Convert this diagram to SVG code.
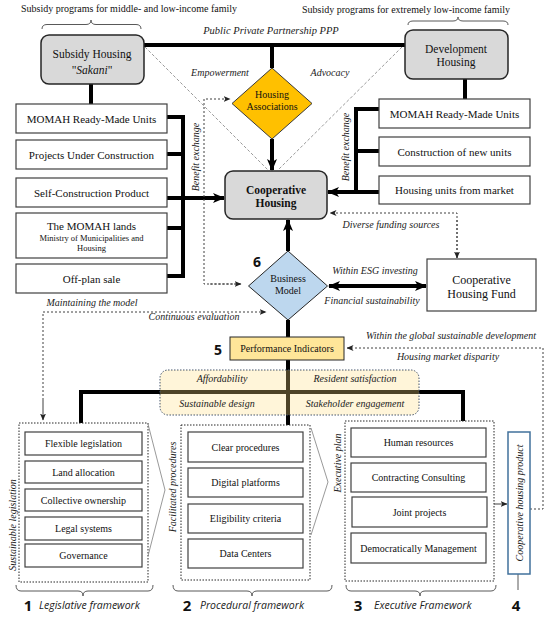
<svg xmlns="http://www.w3.org/2000/svg" width="550" height="618" viewBox="0 0 550 618">
<defs>
<style>
.t{font-family:"Liberation Serif","Times New Roman",serif;fill:#111;text-anchor:middle;}
.l{text-anchor:start;}
.i{font-style:italic;fill:#222;}
.s{font-family:"Open Sans","DejaVu Sans",sans-serif;}
.b{font-weight:bold;}
.box{fill:#fff;stroke:#404040;stroke-width:1.2;}
.gbox{fill:#d9d9d9;stroke:#262626;stroke-width:1.5;}
.thick{stroke:#000;stroke-width:4;fill:none;}
.dot{stroke:#404040;stroke-width:1;stroke-dasharray:2,2;fill:none;}
.dash{stroke:#7f7f7f;stroke-width:0.8;stroke-dasharray:3,2;fill:none;}
.frame{fill:none;stroke:#262626;stroke-width:1;stroke-dasharray:1.5,1.5;}
.brace{fill:none;stroke:#595959;stroke-width:1;}
.chev{fill:none;stroke:#7f7f7f;stroke-width:0.8;}
</style>
<marker id="ah" markerUnits="userSpaceOnUse" markerWidth="12" markerHeight="10" refX="11" refY="5" orient="auto-start-reverse" viewBox="0 0 12 10">
<path d="M0,0 L12,5 L0,10 L3,5 z" fill="#000"/>
</marker>
<marker id="sa" markerUnits="userSpaceOnUse" markerWidth="7" markerHeight="6" refX="6.5" refY="3" orient="auto" viewBox="0 0 7 6">
<path d="M0,0 L7,3 L0,6 L1.8,3 z" fill="#222"/>
</marker>
</defs>
<rect width="550" height="618" fill="#fff"/>

<!-- top labels and braces -->
<text class="t" x="129" y="12" font-size="10">Subsidy programs for middle- and low-income family</text>
<path class="brace" d="M42,29 Q42,24.5 47,24.5 L86,24.5 Q91,24.5 91,20 Q91,24.5 96,24.5 L136,24.5 Q141,24.5 141,29"/>
<text class="t" x="406" y="13" font-size="10">Subsidy programs for extremely low-income family</text>
<path class="brace" d="M408,25 Q408,21 413,21 L453,21 Q458,21 458,17 Q458,21 463,21 L503,21 Q508,21 508,25"/>
<text class="t i" x="271" y="34" font-size="10.5">Public Private Partnership PPP</text>

<g id="connectors">
<!-- dashed diagonals -->
<line class="dash" x1="145" y1="47" x2="268" y2="170"/>
<line class="dash" x1="402" y1="47" x2="278" y2="170"/>
<!-- PPP line -->
<line class="thick" x1="144" y1="45" x2="405" y2="45"/>
<line class="thick" x1="272" y1="45" x2="272" y2="68"/>
<line class="thick" x1="272" y1="139" x2="272" y2="170" marker-end="url(#ah)"/>
<!-- left side -->
<line class="thick" x1="91" y1="84" x2="91" y2="104"/>
<path class="thick" d="M167,117 H183 V276 H167"/>
<line class="thick" x1="167" y1="154" x2="183" y2="154"/>
<line class="thick" x1="167" y1="228" x2="183" y2="228"/>
<line class="thick" x1="167" y1="198" x2="224" y2="198" marker-end="url(#ah)"/>
<!-- right side -->
<line class="thick" x1="465" y1="79" x2="465" y2="99"/>
<path class="thick" d="M379,109 H356 V192"/>
<line class="thick" x1="379" y1="151" x2="356" y2="151"/>
<line class="thick" x1="379" y1="192" x2="328" y2="192" marker-end="url(#ah)"/>
<!-- benefit dotted to diamonds -->
<path class="dot" d="M241,284 H204 V99 H230" marker-end="url(#sa)"/>
<line class="dot" x1="210" y1="284" x2="241" y2="284" marker-end="url(#sa)"/>
<!-- funding -->
<path class="dot" d="M457,258 V213 H330" marker-end="url(#sa)"/>
<line class="dot" x1="457" y1="220" x2="457" y2="258" marker-end="url(#sa)"/>
<!-- business model -->
<line class="thick" x1="288" y1="251" x2="288" y2="220" marker-end="url(#ah)"/>
<line class="thick" x1="329" y1="286" x2="426" y2="286" marker-start="url(#ah)" marker-end="url(#ah)"/>
<line class="thick" x1="288" y1="320" x2="288" y2="337"/>
<!-- maintaining -->
<path class="dot" d="M43,420 V312 H266" marker-end="url(#sa)"/>
<line class="dot" x1="43" y1="400" x2="43" y2="420" marker-end="url(#sa)"/>
<!-- global -->
<path class="dot" d="M530,509 H543 V348 H347" marker-end="url(#sa)"/>
<!-- framework lines -->
<line class="thick" x1="288" y1="360" x2="288" y2="425"/>
<path class="thick" d="M81,423 V392 H463 V421"/>
<!-- exec to product -->
<line x1="494" y1="504" x2="507" y2="504" stroke="#404040" stroke-width="1" marker-end="url(#sa)"/>
<line x1="518" y1="574" x2="518" y2="590" stroke="#595959" stroke-width="1"/>
</g>

<text class="t i" x="220" y="76" font-size="10">Empowerment</text>
<text class="t i" x="330" y="76" font-size="10">Advocacy</text>
<text class="t i" transform="translate(198.5,157) rotate(-90)" font-size="10">Benefit exchange</text>
<text class="t i" transform="translate(348.5,147) rotate(-90)" font-size="10">Benefit exchange</text>
<text class="t i" x="391" y="228" font-size="10">Diverse funding sources</text>
<text class="t i" x="375" y="274" font-size="10">Within ESG investing</text>
<text class="t i" x="372" y="304" font-size="10">Financial sustainability</text>
<text class="t i" x="92" y="306" font-size="10">Maintaining the model</text>
<text class="t i" x="194" y="320" font-size="10">Continuous evaluation</text>
<text class="t i" x="451" y="339" font-size="10">Within the global sustainable development</text>
<text class="t i" x="448" y="360" font-size="10">Housing market disparity</text>

<g id="subsidy-housing">
<rect class="gbox" x="41" y="35" width="103" height="49" rx="8"/>
<text class="t" x="92" y="58" font-size="11.5">Subsidy Housing</text>
<text class="t" x="92" y="74" font-size="11.5">"<tspan font-style="italic">Sakani</tspan>"</text>
</g>
<g id="development-housing">
<rect class="gbox" x="405" y="30" width="103" height="49" rx="8"/>
<text class="t" x="456" y="53" font-size="11.5">Development</text>
<text class="t" x="456" y="66" font-size="11.5">Housing</text>
</g>
<g id="housing-associations">
<polygon points="272,68 312,103.5 272,139 232,103.5" fill="#ffc000" stroke="#3a3a3a" stroke-width="1"/>
<text class="t" x="272" y="97.5" font-size="10" fill="#3a2a00">Housing</text>
<text class="t" x="272" y="109.5" font-size="10" fill="#3a2a00">Associations</text>
</g>
<g id="cooperative-housing">
<rect class="gbox" x="225" y="171" width="102" height="48" rx="8"/>
<text class="t b" x="276" y="194" font-size="11.5">Cooperative</text>
<text class="t b" x="276" y="207" font-size="11.5">Housing</text>
</g>
<g id="left-options">
<rect class="box" x="16" y="104" width="151" height="29"/>
<text class="t" x="91.5" y="122.5" font-size="11">MOMAH Ready-Made Units</text>
<rect class="box" x="16" y="140" width="151" height="29"/>
<text class="t" x="91.5" y="158.5" font-size="11">Projects Under Construction</text>
<rect class="box" x="16" y="178" width="151" height="29"/>
<text class="t" x="91.5" y="196.5" font-size="11">Self-Construction Product</text>
<rect class="box" x="16" y="213" width="151" height="45"/>
<text class="t" x="91.5" y="230" font-size="11">The MOMAH lands</text>
<text class="t" x="91.5" y="241" font-size="8.5">Ministry of Municipalities and</text>
<text class="t" x="91.5" y="251" font-size="8.5">Housing</text>
<rect class="box" x="16" y="264" width="151" height="29"/>
<text class="t" x="91.5" y="282.5" font-size="11">Off-plan sale</text>
</g>
<g id="right-options">
<rect class="box" x="379" y="99" width="151" height="29"/>
<text class="t" x="454.5" y="117.5" font-size="11">MOMAH Ready-Made Units</text>
<rect class="box" x="379" y="137" width="151" height="29"/>
<text class="t" x="454.5" y="155.5" font-size="11">Construction of new units</text>
<rect class="box" x="379" y="176" width="151" height="28"/>
<text class="t" x="454.5" y="194" font-size="11">Housing units from market</text>
</g>
<g id="business-model">
<polygon points="288,251 327.5,286 288,320 248.5,286" fill="#bdd7ee" stroke="#262626" stroke-width="1"/>
<text class="t" x="288" y="281.5" font-size="10" fill="#1f3050">Business</text>
<text class="t" x="288" y="293.5" font-size="10" fill="#1f3050">Model</text>
<text class="t s b" x="257" y="267" font-size="14" fill="#000">6</text>
</g>
<g id="cooperative-housing-fund">
<rect class="box" x="427" y="259" width="109" height="52" stroke="#262626"/>
<text class="t" x="481.5" y="284" font-size="12">Cooperative</text>
<text class="t" x="481.5" y="298" font-size="12">Housing Fund</text>
</g>
<g id="performance-indicators">
<rect x="230" y="337" width="114" height="23" fill="#ffe699" stroke="#262626" stroke-width="1"/>
<text class="t" x="287" y="352" font-size="10">Performance Indicators</text>
<text class="t s b" x="218" y="355" font-size="14" fill="#000">5</text>
</g>
<g id="criteria">
<rect x="160" y="370" width="259" height="45" rx="8" fill="#ffdf80" fill-opacity="0.3" stroke="#44546a" stroke-width="1" stroke-dasharray="1.5,1.5"/>
<text class="t i" x="222" y="381.5" font-size="10" fill="#3d3522">Affordability</text>
<text class="t i" x="355" y="381.5" font-size="10" fill="#3d3522">Resident satisfaction</text>
<text class="t i" x="217" y="406.5" font-size="10" fill="#3d3522">Sustainable design</text>
<text class="t i" x="355" y="406.5" font-size="10" fill="#3d3522">Stakeholder engagement</text>
</g>
<g id="legislative-framework">
<rect class="frame" x="19" y="423" width="129" height="159"/>
<rect class="box" x="25" y="432" width="117" height="23"/>
<text class="t" x="83.5" y="447" font-size="10">Flexible legislation</text>
<rect class="box" x="25" y="461" width="117" height="22"/>
<text class="t" x="83.5" y="475.5" font-size="10">Land allocation</text>
<rect class="box" x="25" y="489" width="117" height="22"/>
<text class="t" x="83.5" y="503.5" font-size="10">Collective ownership</text>
<rect class="box" x="25" y="517" width="117" height="23"/>
<text class="t" x="83.5" y="532" font-size="10">Legal systems</text>
<rect class="box" x="25" y="544" width="117" height="23"/>
<text class="t" x="83.5" y="559" font-size="10">Governance</text>
<text class="t i" transform="translate(15.5,525) rotate(-90)" font-size="10">Sustainable legislation</text>
<path class="chev" d="M148,424 L165,490 L148,556"/>
<path class="brace" d="M16,585 Q16,591 21,591 L78,591 Q83,591 83,596 Q83,591 88,591 L148,591 Q153,591 153,585"/>
<text class="t s b" x="28" y="611" font-size="15" fill="#000">1</text>
<text class="t s i l" x="39" y="609" font-size="10.5">Legislative framework</text>
</g>
<g id="procedural-framework">
<rect class="frame" x="181" y="425" width="129" height="155"/>
<rect class="box" x="188" y="432" width="115" height="30"/>
<text class="t" x="245.5" y="450.5" font-size="10">Clear procedures</text>
<rect class="box" x="188" y="468" width="115" height="29"/>
<text class="t" x="245.5" y="486" font-size="10">Digital platforms</text>
<rect class="box" x="188" y="504" width="115" height="29"/>
<text class="t" x="245.5" y="522" font-size="10">Eligibility criteria</text>
<rect class="box" x="188" y="539" width="115" height="29"/>
<text class="t" x="245.5" y="557" font-size="10">Data Centers</text>
<text class="t i" transform="translate(175.5,487) rotate(-90)" font-size="10">Facilitated procedures</text>
<path class="chev" d="M311,428 L328,482 L311,535"/>
<path class="brace" d="M173,585 Q173,591 178,591 L247,591 Q252,591 252,596 Q252,591 257,591 L327,591 Q332,591 332,585"/>
<text class="t s b" x="187" y="611" font-size="15" fill="#000">2</text>
<text class="t s i l" x="200" y="609" font-size="10.5">Procedural framework</text>
</g>
<g id="executive-framework">
<rect class="frame" x="345" y="421" width="149" height="160"/>
<rect class="box" x="351" y="428" width="135" height="29"/>
<text class="t" x="418.5" y="446" font-size="10">Human resources</text>
<rect class="box" x="351" y="463" width="135" height="29"/>
<text class="t" x="418.5" y="481" font-size="10">Contracting Consulting</text>
<rect class="box" x="352" y="497" width="135" height="30"/>
<text class="t" x="419.5" y="515.5" font-size="10">Joint projects</text>
<rect class="box" x="351" y="533" width="135" height="30"/>
<text class="t" x="418.5" y="551.5" font-size="10">Democratically Management</text>
<text class="t i" transform="translate(340.5,463) rotate(-90)" font-size="10">Executive plan</text>
<path class="brace" d="M346,585 Q346,591 351,591 L415,591 Q420,591 420,596 Q420,591 425,591 L491,591 Q496,591 496,585"/>
<text class="t s b" x="358" y="611" font-size="15" fill="#000">3</text>
<text class="t s i l" x="374" y="609" font-size="10.5">Executive Framework</text>
</g>
<g id="cooperative-housing-product">
<rect x="508" y="432" width="22" height="142" fill="#fff" stroke="#41719c" stroke-width="1.5"/>
<text class="t i" transform="translate(522.5,503) rotate(-90)" font-size="10">Cooperative housing product</text>
<text class="t s b" x="516" y="611" font-size="15" fill="#000">4</text>
</g>
</svg>
